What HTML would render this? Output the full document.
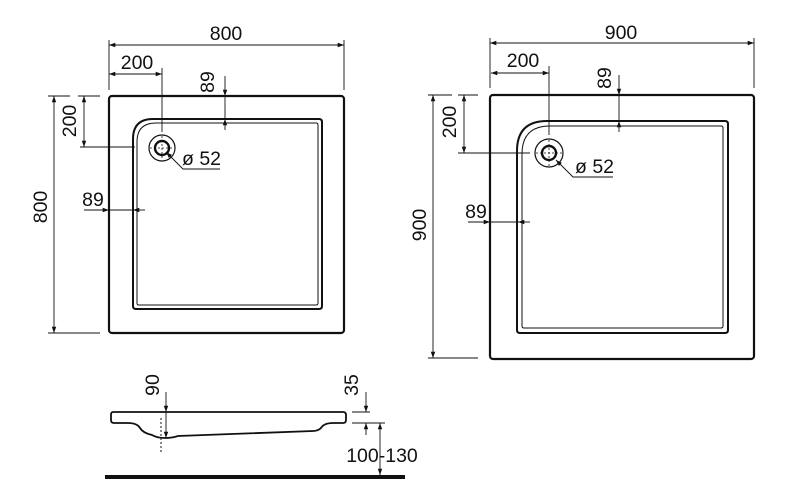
<!DOCTYPE html>
<html><head><meta charset="utf-8"><style>
html,body{margin:0;padding:0;background:#fff;}
svg{display:block;}
text{font-family:"Liberation Sans",sans-serif;font-size:19.5px;fill:#111;}
</style></head><body>
<svg width="802" height="500" viewBox="0 0 802 500" xmlns="http://www.w3.org/2000/svg">
<defs>
<marker id="a" viewBox="0 0 10 10" refX="10" refY="5" markerWidth="7" markerHeight="7" orient="auto-start-reverse"><path d="M0,1.5 L10,5 L0,8.5 z" fill="#111"/></marker>
</defs>
<g fill="none" stroke="#111">
<!-- LEFT TRAY -->
<rect x="109" y="96" width="235" height="237" rx="3" stroke-width="2.2"/>
<path d="M153,119 L319,119 Q322,119 322,122 L322,306 Q322,309 319,309 L136,309 Q133,309 133,306 L133,139 Q133,119 153,119 Z" stroke-width="2"/>
<path d="M156,123 L316,123 Q318,123 318,125 L318,303 Q318,305 316,305 L139,305 Q137,305 137,303 L137,142 Q137,123 156,123 Z" stroke-width="1"/>
<circle cx="162" cy="148" r="13" stroke-width="1.2"/>
<circle cx="162" cy="148" r="7" stroke-width="2.4"/>
<path d="M150,148 H174 M162,136 V160" stroke-width="0.8" stroke-dasharray="2 2"/>
<g stroke-width="0.9">
<line x1="109" y1="40" x2="109" y2="90"/><line x1="344" y1="40" x2="344" y2="90"/>
<line x1="109" y1="45" x2="344" y2="45" marker-start="url(#a)" marker-end="url(#a)"/>
<line x1="109" y1="74" x2="162" y2="74" marker-start="url(#a)" marker-end="url(#a)"/>
<line x1="162" y1="68" x2="162" y2="132"/>
<line x1="225" y1="76" x2="225" y2="96" marker-end="url(#a)"/>
<line x1="225" y1="130" x2="225" y2="119" marker-end="url(#a)"/>
<line x1="225" y1="96" x2="225" y2="119"/>
<line x1="78" y1="96" x2="100" y2="96"/>
<line x1="84" y1="96" x2="84" y2="147" marker-start="url(#a)" marker-end="url(#a)"/>
<line x1="80" y1="147" x2="135" y2="147"/>
<line x1="48" y1="96" x2="70" y2="96"/><line x1="48" y1="333" x2="100" y2="333"/>
<line x1="54" y1="96" x2="54" y2="333" marker-start="url(#a)" marker-end="url(#a)"/>
<line x1="84" y1="210" x2="109" y2="210" marker-end="url(#a)"/>
<line x1="145" y1="210" x2="133" y2="210" marker-end="url(#a)"/>
<line x1="109" y1="210" x2="133" y2="210"/>
<polyline points="220,169 183,169 166,152" marker-end="url(#a)"/>
</g>
<!-- RIGHT TRAY -->
<rect x="490" y="95" width="264" height="264" rx="3" stroke-width="2.2"/>
<path d="M547,121 L725,121 Q728,121 728,124 L728,330 Q728,333 725,333 L520,333 Q517,333 517,330 L517,151 Q517,121 547,121 Z" stroke-width="2"/>
<path d="M550,126 L721,126 Q723,126 723,128 L723,326 Q723,328 721,328 L524,328 Q522,328 522,326 L522,154 Q522,126 550,126 Z" stroke-width="1"/>
<circle cx="549" cy="153" r="14" stroke-width="1.2"/>
<circle cx="549" cy="153" r="7" stroke-width="2.4"/>
<path d="M536,153 H562 M549,140 V166" stroke-width="0.8" stroke-dasharray="2 2"/>
<g stroke-width="0.9">
<line x1="490" y1="38" x2="490" y2="88"/><line x1="754" y1="38" x2="754" y2="88"/>
<line x1="490" y1="43" x2="754" y2="43" marker-start="url(#a)" marker-end="url(#a)"/>
<line x1="491" y1="73" x2="549" y2="73" marker-start="url(#a)" marker-end="url(#a)"/>
<line x1="549" y1="66" x2="549" y2="135"/>
<line x1="619" y1="75" x2="619" y2="95" marker-end="url(#a)"/>
<line x1="619" y1="132" x2="619" y2="121" marker-end="url(#a)"/>
<line x1="619" y1="95" x2="619" y2="121"/>
<line x1="458" y1="95" x2="478" y2="95"/>
<line x1="464" y1="95" x2="464" y2="153" marker-start="url(#a)" marker-end="url(#a)"/>
<line x1="458" y1="153" x2="530" y2="153"/>
<line x1="428" y1="95" x2="452" y2="95"/><line x1="428" y1="358" x2="478" y2="358"/>
<line x1="433" y1="95" x2="433" y2="358" marker-start="url(#a)" marker-end="url(#a)"/>
<line x1="468" y1="222" x2="490" y2="222" marker-end="url(#a)"/>
<line x1="530" y1="222" x2="518" y2="222" marker-end="url(#a)"/>
<line x1="490" y1="222" x2="518" y2="222"/>
<polyline points="613,177 573,177 556,160" marker-end="url(#a)"/>
</g>
<!-- SIDE VIEW -->
<path d="M113,412 L343,412 Q346,412 346,415 L346,420 Q346,423 343,423 L333,423 Q324,423 321,428 Q318,431 313,431 L178,436 Q172,438 165,438 Q157,438 152,435 Q143,433 140,428 Q137,423 128,423 L114,423 Q111,423 111,420 L111,415 Q111,412 113,412 Z" stroke-width="1.8"/>
<line x1="161" y1="418" x2="161" y2="452" stroke-width="1" stroke-dasharray="2 2"/>
<g stroke-width="0.9">
<line x1="166" y1="392" x2="166" y2="412" marker-end="url(#a)"/>
<line x1="166" y1="412" x2="166" y2="438" marker-end="url(#a)"/>
<line x1="352" y1="412" x2="370" y2="412"/>
<line x1="352" y1="423" x2="385" y2="423"/>
<line x1="366" y1="392" x2="366" y2="412" marker-end="url(#a)"/>
<line x1="366" y1="435" x2="366" y2="423" marker-end="url(#a)"/>
<line x1="380" y1="423" x2="380" y2="475" marker-start="url(#a)" marker-end="url(#a)"/>
</g>
</g>
<rect x="105" y="475" width="300" height="4" fill="#111"/>
<!-- TEXT -->
<text x="226" y="40" text-anchor="middle">800</text>
<text x="137" y="69" text-anchor="middle">200</text>
<text transform="translate(214,82) rotate(-90)" text-anchor="middle">89</text>
<text transform="translate(76,121) rotate(-90)" text-anchor="middle">200</text>
<text transform="translate(47,207) rotate(-90)" text-anchor="middle">800</text>
<text x="93" y="206" text-anchor="middle">89</text>
<text x="182" y="165">ø 52</text>
<text x="621" y="39" text-anchor="middle">900</text>
<text x="523" y="67" text-anchor="middle">200</text>
<text transform="translate(611,78) rotate(-90)" text-anchor="middle">89</text>
<text transform="translate(456,122) rotate(-90)" text-anchor="middle">200</text>
<text transform="translate(426,225) rotate(-90)" text-anchor="middle">900</text>
<text x="476" y="218" text-anchor="middle">89</text>
<text x="575" y="173">ø 52</text>
<text transform="translate(159,385) rotate(-90)" text-anchor="middle">90</text>
<text transform="translate(358,385) rotate(-90)" text-anchor="middle">35</text>
<text x="382" y="462" text-anchor="middle">100-130</text>
</svg>
</body></html>
